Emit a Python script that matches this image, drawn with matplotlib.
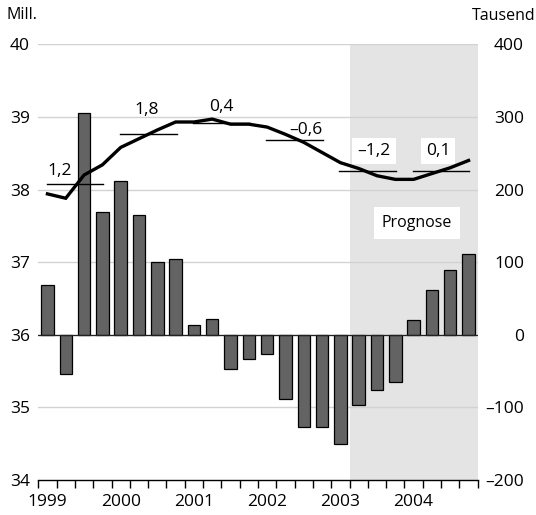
import matplotlib
matplotlib.use("Agg")
import matplotlib.pyplot as plt
import numpy as np

plt.rcParams['font.family'] = ['Open Sans', 'DejaVu Sans']

# ---- data ----
years = ['1999', '2000', '2001', '2002', '2003', '2004']
# quarterly change in employment (Tausend), right axis
change = [69, -54, 305, 169, 212, 165, 100, 104, 14, 22, -47, -33,
          -26, -89, -127, -127, -150, -97, -76, -65, 21, 61, 89, 111]
# quarterly employment level (Mill.), left axis
level = [37.94, 37.88, 38.20, 38.34, 38.58, 38.70, 38.82, 38.93,
         38.93, 38.97, 38.90, 38.90, 38.86, 38.76, 38.65, 38.51,
         38.37, 38.29, 38.19, 38.14, 38.14, 38.22, 38.30, 38.40]
# annual averages (Mill.) and growth-rate labels (%)
annual_avg = [38.08, 38.76, 38.92, 38.68, 38.255, 38.255]
growth_labels = ['1,2', '1,8', '0,4', '–0,6', '–1,2', '0,1']
# label positions (quarter index, Mill.)
label_x = [1.17, 5.94, 9.98, 14.62, 18.33, 21.83]
label_y = [38.25, 39.10, 39.14, 38.82, 38.53, 38.53]
label_box = [False, False, False, False, True, True]
forecast_start = 17  # forecast from Q2 2003

left_ticks = [34, 35, 36, 37, 38, 39, 40]
right_ticks = [-200, -100, 0, 100, 200, 300, 400]
right_labels = ['–200', '–100', '0', '100', '200', '300', '400']

W, H = 536, 515
fig = plt.figure(figsize=(W / 100, H / 100), dpi=100)
ax1 = fig.add_axes([38.3 / W, 1 - 480 / H, (477.7 - 38.3) / W, (480 - 44.3) / H])
ax2 = ax1.twinx()

n = len(change)
xc = np.arange(n) + 0.5

# ax1: Tausend (bars), labels on right
ax1.set_xlim(0, n)
ax1.set_ylim(-200, 400)
ax1.axvspan(forecast_start, n, color='#e4e4e4', zorder=0, lw=0)
for t in right_ticks[1:]:
    ax1.axhline(t, color='#d2d2d2', lw=1.0, zorder=1)
ax1.bar(xc, change, width=0.68, color='#636363', edgecolor='black', linewidth=0.9, zorder=3)
ax1.axhline(0, color='#222222', lw=0.9, zorder=4)

ax1.yaxis.tick_right()
ax1.set_yticks(right_ticks)
ax1.set_yticklabels(right_labels)
ax1.tick_params(axis='y', length=0, pad=33.3, labelsize=12.5)
for lab in ax1.get_yticklabels():
    lab.set_horizontalalignment('right')

ax1.set_xticks(np.arange(n + 1))
ax1.set_xticklabels([])
ax1.set_xticks(np.arange(len(years)) * 4 + 0.5, minor=True)
ax1.set_xticklabels(years, minor=True)
ax1.tick_params(axis='x', which='major', direction='out', length=6, width=1, color='black')
ax1.tick_params(axis='x', which='minor', length=0, pad=10, labelsize=12.5)

for s in ['left', 'right', 'top']:
    ax1.spines[s].set_visible(False)
ax1.spines['bottom'].set_linewidth(1.0)

# ax2: Mill. (line), labels on left
ax2.set_ylim(34, 40)
ax2.yaxis.tick_left()
ax2.set_yticks(left_ticks)
ax2.tick_params(axis='y', length=0, pad=6, labelsize=12.5)
for s in ['left', 'right', 'top', 'bottom']:
    ax2.spines[s].set_visible(False)

ax2.plot(xc, level, color='black', lw=2.4, zorder=5, solid_joinstyle='miter')
for i, avg in enumerate(annual_avg):
    ax2.plot([i * 4 + 0.45, i * 4 + 3.55], [avg, avg], color='black', lw=1.0, zorder=5)
    kw = {}
    if label_box[i]:
        kw['bbox'] = dict(boxstyle='square,pad=0.3', fc='white', ec='none')
    ax2.text(label_x[i], label_y[i], growth_labels[i], ha='center', va='center',
             fontsize=12.5, zorder=6, **kw)

ax2.text(20.68, 37.54, 'Prognose', ha='center', va='center', fontsize=11.5,
         bbox=dict(boxstyle='square,pad=0.5', fc='white', ec='none'), zorder=6)

fig.text(7 / W, 1 - 15 / H, 'Mill.', ha='left', va='center', fontsize=11.5)
fig.text(535 / W, 1 - 16 / H, 'Tausend', ha='right', va='center', fontsize=11.5)

fig.savefig('out.png', dpi=100)
